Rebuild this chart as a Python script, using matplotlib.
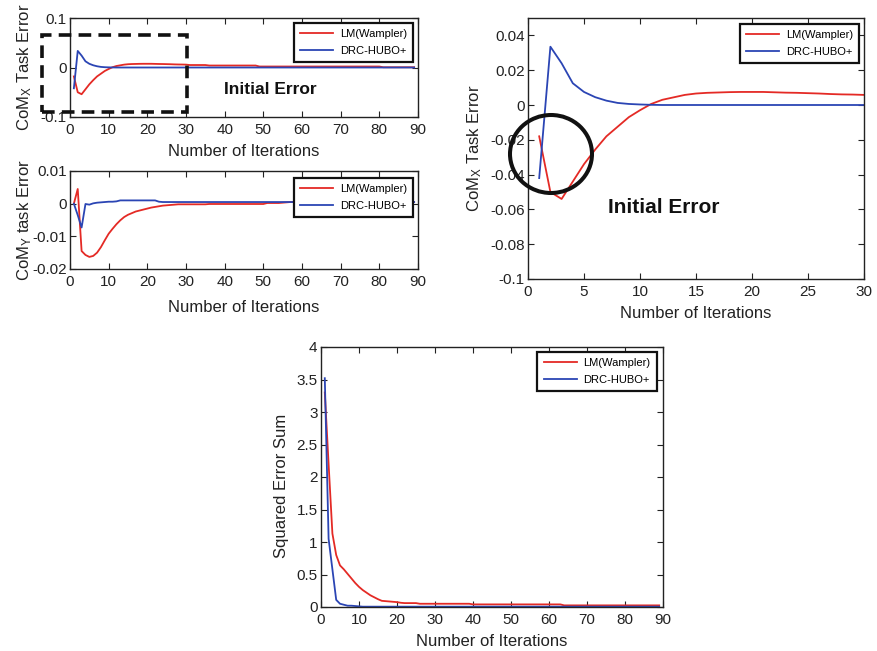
import matplotlib
matplotlib.use("Agg")
import matplotlib.pyplot as plt
from matplotlib.patches import Rectangle, Ellipse

plt.rcParams['font.family'] = ['Liberation Sans', 'DejaVu Sans']
plt.rcParams['mathtext.default'] = 'regular'

iterations = list(range(1, 90))

comx_lm = [
    -0.018, -0.050, -0.054, -0.044, -0.034, -0.0256, -0.018, -0.0125, -0.007, -0.003,
    0.0006, 0.003, 0.0044, 0.0058, 0.0066, 0.007, 0.0072, 0.0074, 0.0075, 0.0075,
    0.0075, 0.0073, 0.0071, 0.007, 0.0068, 0.0066, 0.0063, 0.0061, 0.006, 0.0058,
    0.005, 0.005, 0.005, 0.005, 0.005, 0.004, 0.004, 0.004, 0.004, 0.004,
    0.004, 0.004, 0.004, 0.004, 0.004, 0.004, 0.004, 0.004, 0.002, 0.002,
    0.002, 0.002, 0.002, 0.002, 0.002, 0.002, 0.002, 0.002, 0.002, 0.002,
    0.002, 0.002, 0.002, 0.002, 0.002, 0.002, 0.002, 0.002, 0.002, 0.002,
    0.002, 0.002, 0.002, 0.002, 0.002, 0.002, 0.002, 0.002, 0.002, 0.002,
    0.0005, 0.0005, 0.0005, 0.0005, 0.0005, 0.0005, 0.0005, 0.0005, 0.0005,
]
comx_drc = [
    -0.042, 0.0335, 0.024, 0.0125, 0.0075, 0.0045, 0.0025, 0.0012, 0.0006, 0.0003,
    0.0001, 0.0, 0.0, 0.0, 0.0, 0.0, 0.0, 0.0, 0.0, 0.0,
    0.0, 0.0, 0.0, 0.0, 0.0, 0.0, 0.0, 0.0, 0.0, 0.0,
    0.0, 0.0, 0.0, 0.0, 0.0, 0.0, 0.0, 0.0, 0.0, 0.0,
    0.0, 0.0, 0.0, 0.0, 0.0, 0.0, 0.0, 0.0, 0.0, 0.0,
    0.0, 0.0, 0.0, 0.0, 0.0, 0.0, 0.0, 0.0, 0.0, 0.0,
    0.0, 0.0, 0.0, 0.0, 0.0, 0.0, 0.0, 0.0, 0.0, 0.0,
    0.0, 0.0, 0.0, 0.0, 0.0, 0.0, 0.0, 0.0, 0.0, 0.0,
    0.0, 0.0, 0.0, 0.0, 0.0, 0.0, 0.0, 0.0, 0.0,
]
comy_lm = [
    0.0, 0.0045, -0.0145, -0.0157, -0.0163, -0.016, -0.015, -0.0133, -0.0112, -0.0092,
    -0.0077, -0.0063, -0.0051, -0.0041, -0.0034, -0.0029, -0.0024, -0.0021, -0.0018, -0.0015,
    -0.0012, -0.001, -0.0008, -0.0006, -0.0005, -0.0004, -0.0003, -0.0002, -0.0002, -0.0002,
    -0.0002, -0.0002, -0.0002, -0.0002, -0.0002, -0.0001, -0.0001, -0.0001, -0.0001, -0.0001,
    -0.0001, -0.0001, -0.0001, -0.0001, -0.0001, -0.0001, -0.0001, -0.0001, -0.0001, -0.0001,
    0.0002, 0.0002, 0.0002, 0.0002, 0.0003, 0.0004, 0.0005, 0.0005, 0.0005, 0.0005,
    0.0005, 0.0005, 0.0005, 0.0005, 0.0005, 0.0005, 0.0005, 0.0005, 0.0005, 0.0005,
    0.0005, 0.0005, 0.0005, 0.0005, 0.0005, 0.0005, 0.0005, 0.0005, 0.0005, 0.0005,
    0.0005, 0.0005, 0.0005, 0.0005, 0.0005, 0.0005, 0.0005, 0.0005, 0.0005,
]
comy_drc = [
    0.0, -0.0035, -0.0073, -0.0001, -0.0003, 0.0001, 0.0003, 0.0004, 0.0005, 0.0006,
    0.0006, 0.0007, 0.001, 0.001, 0.001, 0.001, 0.001, 0.001, 0.001, 0.001,
    0.001, 0.001, 0.0006, 0.0005, 0.0005, 0.0005, 0.0005, 0.0005, 0.0005, 0.0005,
    0.0005, 0.0005, 0.0005, 0.0005, 0.0005, 0.0005, 0.0005, 0.0005, 0.0005, 0.0005,
    0.0005, 0.0005, 0.0005, 0.0005, 0.0005, 0.0005, 0.0005, 0.0005, 0.0005, 0.0005,
    0.0005, 0.0005, 0.0005, 0.0005, 0.0005, 0.0005, 0.0005, 0.0005, 0.0005, 0.0005,
    0.0005, 0.0005, 0.0005, 0.0005, 0.0005, 0.0005, 0.0005, 0.0005, 0.0005, 0.0005,
    0.0005, 0.0005, 0.0005, 0.0005, 0.0005, 0.0005, 0.0005, 0.0005, 0.0005, 0.0005,
    0.0005, 0.0005, 0.0005, 0.0005, 0.0005, 0.0005, 0.0005, 0.0005, 0.0005,
]
sq_lm = [
    3.30, 2.20, 1.13, 0.80, 0.64, 0.58, 0.51, 0.44, 0.37, 0.31,
    0.26, 0.22, 0.18, 0.15, 0.12, 0.095, 0.09, 0.085, 0.08, 0.075,
    0.065, 0.06, 0.06, 0.06, 0.06, 0.05, 0.05, 0.05, 0.05, 0.05,
    0.05, 0.05, 0.05, 0.05, 0.05, 0.05, 0.05, 0.05, 0.05, 0.04,
    0.04, 0.04, 0.04, 0.04, 0.04, 0.04, 0.04, 0.04, 0.04, 0.04,
    0.04, 0.04, 0.04, 0.04, 0.04, 0.04, 0.04, 0.04, 0.04, 0.04,
    0.04, 0.04, 0.04, 0.025, 0.025, 0.025, 0.025, 0.025, 0.025, 0.025,
    0.025, 0.025, 0.025, 0.025, 0.025, 0.025, 0.025, 0.025, 0.025, 0.025,
    0.025, 0.025, 0.025, 0.025, 0.025, 0.025, 0.025, 0.025, 0.025,
]
sq_drc = [
    3.52, 1.05, 0.58, 0.11, 0.05, 0.035, 0.02, 0.02, 0.015, 0.01,
    0.005, 0.005, 0.005, 0.005, 0.005, 0.005, 0.005, 0.005, 0.005, 0.005,
    0.005, 0.005, 0.005, 0.005, 0.005, 0.005, 0.005, 0.005, 0.005, 0.005,
    0.005, 0.005, 0.005, 0.005, 0.005, 0.005, 0.005, 0.005, 0.005, 0.005,
    0.005, 0.005, 0.005, 0.005, 0.005, 0.005, 0.005, 0.005, 0.005, 0.005,
    0.005, 0.005, 0.005, 0.005, 0.005, 0.005, 0.005, 0.005, 0.005, 0.005,
    0.005, 0.005, 0.005, 0.005, 0.005, 0.005, 0.005, 0.005, 0.005, 0.005,
    0.005, 0.005, 0.005, 0.005, 0.005, 0.005, 0.005, 0.005, 0.005, 0.005,
    0.005, 0.005, 0.005, 0.005, 0.005, 0.005, 0.005, 0.005, 0.005,
]

series_labels = ['LM(Wampler)', 'DRC-HUBO+']
RED = '#e42a25'
BLUE = '#2b45b4'

W, H = 877, 651
fig = plt.figure(figsize=(W / 100, H / 100), dpi=100)


def pos(l, t, r, b):
    return [l / W, 1 - b / H, (r - l) / W, (b - t) / H]


def style(ax, box, xlim, xticks, ylim, yticks, yticklabels, ylabel, ylab_right, xpad,
          ylab_center=None, xlabel='Number of Iterations'):
    l, t, r, b = box
    ax.set_xlim(*xlim)
    ax.set_ylim(*ylim)
    ax.set_xticks(xticks)
    ax.set_xticklabels([str(v) for v in xticks])
    ax.set_yticks(yticks)
    ax.set_yticklabels(yticklabels)
    ax.tick_params(direction='in', top=True, right=True, length=4, width=0.8,
                   labelsize=11, colors='#222222')
    ax.tick_params(axis='x', pad=4.5)
    ax.tick_params(axis='y', pad=2.5)
    for s in ax.spines.values():
        s.set_linewidth(1.0)
        s.set_color('#222222')
    ax.set_xlabel(xlabel, fontsize=12, labelpad=xpad, color='#222222')
    ax.set_ylabel(ylabel, fontsize=12, color='#222222')
    yc = 0.5 if ylab_center is None else (b - ylab_center) / (b - t)
    ax.yaxis.set_label_coords((ylab_right - l) / (r - l), yc)


def legend(ax, anchor):
    leg = ax.legend(series_labels, loc='upper right', bbox_to_anchor=anchor,
                    fontsize=8, frameon=True, fancybox=False, framealpha=1,
                    edgecolor='#111111', handlelength=3.0, borderpad=0.55,
                    labelspacing=0.6, handletextpad=0.6, borderaxespad=0)
    leg.get_frame().set_linewidth(1.6)


# Top-left: CoM_X
b1 = (70, 18, 418, 117)
ax1 = fig.add_axes(pos(*b1))
ax1.plot(iterations, comx_lm, color=RED, lw=1.3)
ax1.plot(iterations, comx_drc, color=BLUE, lw=1.3)
style(ax1, b1, (0, 90), list(range(0, 91, 10)), (-0.1, 0.1), [-0.1, 0, 0.1],
      ['-0.1', '0', '0.1'], 'CoM$_X$ Task Error', 34, 5)
legend(ax1, (0.9856, 0.949))

# Middle-left: CoM_Y
b2 = (70, 171, 418, 269)
ax2 = fig.add_axes(pos(*b2))
ax2.plot(iterations, comy_lm, color=RED, lw=1.3)
ax2.plot(iterations, comy_drc, color=BLUE, lw=1.3)
style(ax2, b2, (0, 90), list(range(0, 91, 10)), (-0.02, 0.01), [-0.02, -0.01, 0, 0.01],
      ['-0.02', '-0.01', '0', '0.01'], 'CoM$_Y$ task Error', 34, 7.5)
legend(ax2, (0.9856, 0.929))

# Right: zoomed CoM_X
b3 = (528, 18, 864, 279)
ax3 = fig.add_axes(pos(*b3))
ax3.plot(iterations, comx_lm, color=RED, lw=1.3)
ax3.plot(iterations, comx_drc, color=BLUE, lw=1.3)
yt3 = [-0.1, -0.08, -0.06, -0.04, -0.02, 0, 0.02, 0.04]
style(ax3, b3, (0, 30), list(range(0, 31, 5)), (-0.1, 0.05), yt3,
      ['-0.1', '-0.08', '-0.06', '-0.04', '-0.02', '0', '0.02', '0.04'],
      'CoM$_X$ Task Error', 484, 5)
legend(ax3, (0.985, 0.977))

# Bottom: squared error sum
b4 = (321, 347, 663, 607)
ax4 = fig.add_axes(pos(*b4))
ax4.plot(iterations, sq_lm, color=RED, lw=1.3)
ax4.plot(iterations, sq_drc, color=BLUE, lw=1.3)
yt4 = [0, 0.5, 1, 1.5, 2, 2.5, 3, 3.5, 4]
style(ax4, b4, (0, 90), list(range(0, 91, 10)), (0, 4), yt4,
      ['0', '0.5', '1', '1.5', '2', '2.5', '3', '3.5', '4'], 'Squared Error Sum', 289, 5,
      ylab_center=486)
legend(ax4, (0.982, 0.981))

# Annotations
fig.patches.append(Rectangle((42 / W, 1 - 112 / H), (187 - 42) / W, (112 - 35) / H,
                             transform=fig.transFigure, fill=False, edgecolor='#111111',
                             lw=2.6, linestyle=(0, (3.5, 2.0)), zorder=10))
fig.text(270 / W, 1 - 89 / H, 'Initial Error', fontsize=12.5, fontweight='bold',
         ha='center', va='center', color='#111111')
fig.patches.append(Ellipse((551 / W, 1 - 154 / H), 82 / W, 78 / H,
                           transform=fig.transFigure, fill=False, edgecolor='#111111',
                           lw=2.9, zorder=10))
fig.text(664 / W, 1 - 207 / H, 'Initial Error', fontsize=15, fontweight='bold',
         ha='center', va='center', color='#111111')

fig.savefig('out.png', dpi=100)
